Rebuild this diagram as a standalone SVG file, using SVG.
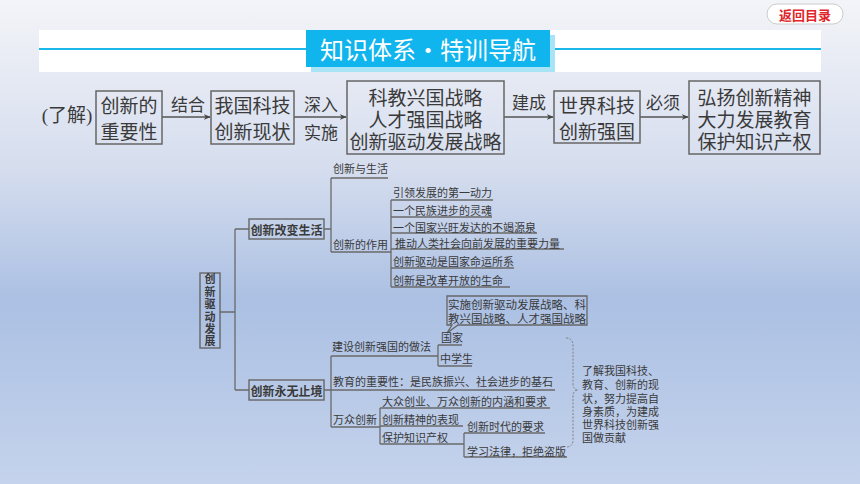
<svg xmlns="http://www.w3.org/2000/svg" width="860" height="484" viewBox="0 0 860 484">
<defs>
<linearGradient id="bg" x1="0" y1="0" x2="0" y2="1">
<stop offset="0" stop-color="#f3f4f8"/>
<stop offset="0.35" stop-color="#d5ddee"/>
<stop offset="0.62" stop-color="#abc0e3"/>
<stop offset="1" stop-color="#c5d3ec"/>
</linearGradient>
<marker id="ah" viewBox="0 0 10 10" refX="9" refY="5" markerWidth="7" markerHeight="7" orient="auto" markerUnits="userSpaceOnUse">
<path d="M0 1 L10 5 L0 9 L3 5 Z" fill="#444"/>
</marker>
<style>
.t{font-family:"Liberation Serif","Noto Sans CJK SC",serif;fill:#3a3a3a;dominant-baseline:central}
.big{font-size:19px}
.lab{font-size:17px}
.sm{font-size:11px}
.mid{text-anchor:middle}
.bold{font-weight:bold}
.box{fill:none;stroke:#666;stroke-width:1.5}
.sbox{fill:none;stroke:#666;stroke-width:1.4}
.ln{stroke:#6a6a6a;stroke-width:1.3;fill:none}
.arr{stroke:#555;stroke-width:1.4;fill:none;marker-end:url(#ah)}
</style>
</defs>
<rect width="860" height="484" fill="url(#bg)"/>

<g id="back-button">
<rect x="767" y="4" width="76" height="20" rx="10" fill="#fff" stroke="#ccc" stroke-width="1"/>
<text x="805" y="14.5" class="mid" style="font-family:'Noto Sans CJK SC',sans-serif;font-size:13px;font-weight:bold;fill:#e0262a;dominant-baseline:central">返回目录</text>
</g>

<g id="header">
<rect x="39" y="30" width="782" height="42" fill="#fff"/>
<line x1="39" y1="49" x2="821" y2="49" stroke="#1ab7ea" stroke-width="2"/>
<rect x="311" y="35" width="244" height="37" fill="#a8e3f6"/>
<rect x="306" y="30" width="244" height="37" fill="#10b5ee"/>
<text x="428" y="48.5" class="mid" style="font-family:'Noto Sans CJK SC',sans-serif;font-size:24px;fill:#fff;dominant-baseline:central">知识体系·特训导航</text>
</g>

<g id="connectors">
<path class="arr" d="M162 117 H210"/>
<path class="arr" d="M294 117 H346"/>
<path class="arr" d="M504 117 H553"/>
<path class="arr" d="M640 117 H688"/>
<path class="ln" d="M220 312 H235 M235 229 V390 M235 229 H249 M235 390 H249"/>
<path class="ln" d="M324 229 H331 M331 178 V252 M331 178 H388 M331 252 H391"/>
<path class="ln" d="M391 200 V287 M391 200 H493 M391 217 H492 M391 233 H537 M391 249 H564 M391 268 H514 M391 287 H510"/>
<path class="ln" d="M324 390 H555 M331 356 V427 M331 356 H438 M438 345 V366 M438 345 H462 M438 366 H472"/>
<path class="ln" d="M331 427 H380 M380 408 V444 M380 408 H550 M380 426 H463 M380 444 H464 M464 433 V457 M464 433 H545 M464 457 H567"/>
<path d="M566 338 Q573 338 573 346 V383 Q573 390 578 390 Q573 390 573 397 V440 Q573 447 566 447" fill="none" stroke="#808080" stroke-width="1" stroke-dasharray="2 1.5"/>
</g>

<g id="top-labels">
<text x="67" y="115" class="t big mid">(了解)</text>
<text x="188" y="105" class="t lab mid">结合</text>
<text x="321" y="105" class="t lab mid">深入</text>
<text x="321" y="133" class="t lab mid">实施</text>
<text x="529" y="103" class="t lab mid">建成</text>
<text x="663" y="103" class="t lab mid">必须</text>
</g>

<g id="n-importance">
<rect class="box" x="96" y="91" width="66" height="53"/>
<text x="129" y="106" class="t big mid">创新的</text>
<text x="129" y="132" class="t big mid">重要性</text>
</g>
<g id="n-status">
<rect class="box" x="211" y="91" width="83" height="53"/>
<text x="252.5" y="106" class="t big mid">我国科技</text>
<text x="252.5" y="132" class="t big mid">创新现状</text>
</g>
<g id="n-strategies">
<rect class="box" x="347" y="81" width="157" height="73"/>
<text x="425.5" y="98" class="t big mid">科教兴国战略</text>
<text x="425.5" y="120" class="t big mid">人才强国战略</text>
<text x="425.5" y="142" class="t big mid">创新驱动发展战略</text>
</g>
<g id="n-power">
<rect class="box" x="554" y="91" width="86" height="52"/>
<text x="597" y="106" class="t big mid">世界科技</text>
<text x="597" y="132" class="t big mid">创新强国</text>
</g>
<g id="n-must">
<rect class="box" x="689" y="81" width="131" height="73"/>
<text x="754.5" y="98" class="t big mid">弘扬创新精神</text>
<text x="754.5" y="120" class="t big mid">大力发展教育</text>
<text x="754.5" y="142" class="t big mid">保护知识产权</text>
</g>

<g id="n-root">
<rect class="sbox" x="200" y="273" width="20" height="75"/>
<text x="210" y="311" class="mid bold" style="font-family:'Noto Sans CJK SC',sans-serif;font-size:11px;fill:#3a3a3a;writing-mode:vertical-rl;letter-spacing:1.4px">创新驱动发展</text>
</g>
<g id="n-change-life">
<rect class="sbox" x="249" y="219" width="75" height="20"/>
<text x="286.5" y="229" class="mid bold" style="font-family:'Noto Sans CJK SC',sans-serif;fill:#3a3a3a;dominant-baseline:central;font-size:12px">创新改变生活</text>
</g>
<g id="n-endless">
<rect class="sbox" x="249" y="380" width="75" height="20"/>
<text x="286.5" y="390" class="mid bold" style="font-family:'Noto Sans CJK SC',sans-serif;fill:#3a3a3a;dominant-baseline:central;font-size:12px">创新永无止境</text>
</g>

<g id="n-life-items" transform="translate(0,1)">
<text x="333" y="168" class="t sm">创新与生活</text>
<text x="333" y="244" class="t sm">创新的作用</text>
<text x="393" y="192" class="t sm">引领发展的第一动力</text>
<text x="393" y="210" class="t sm">一个民族进步的灵魂</text>
<text x="393" y="227" class="t sm">一个国家兴旺发达的不竭源泉</text>
<text x="395" y="243" class="t sm">推动人类社会向前发展的重要力量</text>
<text x="393" y="261" class="t sm">创新驱动是国家命运所系</text>
<text x="393" y="280" class="t sm">创新是改革开放的生命</text>
</g>

<g id="n-callout">
<path d="M447 296 H587 V325 H458 L447 333 L452 325 H447 Z" fill="none" stroke="#666" stroke-width="1.3"/>
<text class="t mid" style="font-size:11.5px"><tspan x="517" y="305">实施创新驱动发展战略、科</tspan><tspan x="517" y="319">教兴国战略、人才强国战略</tspan></text>
</g>

<g id="n-endless-items" transform="translate(0,1)">
<text x="332" y="346" class="t sm">建设创新强国的做法</text>
<text x="441" y="337" class="t sm">国家</text>
<text x="440" y="358" class="t sm">中学生</text>
<text x="333" y="381" class="t sm">教育的重要性：是民族振兴、社会进步的基石</text>
<text x="333" y="419" class="t sm">万众创新</text>
<text x="382" y="401" class="t sm">大众创业、万众创新的内涵和要求</text>
<text x="382" y="419" class="t sm">创新精神的表现</text>
<text x="382" y="437" class="t sm">保护知识产权</text>
<text x="467" y="426" class="t sm">创新时代的要求</text>
<text x="467" y="451" class="t sm">学习法律，拒绝盗版</text>
</g>

<g id="n-summary">
<text class="t sm"><tspan x="582" y="371">了解我国科技、</tspan><tspan x="582" y="385">教育、创新的现</tspan><tspan x="582" y="399">状，努力提高自</tspan><tspan x="582" y="412">身素质，为建成</tspan><tspan x="582" y="425">世界科技创新强</tspan><tspan x="582" y="438">国做贡献</tspan></text>
</g>
</svg>
